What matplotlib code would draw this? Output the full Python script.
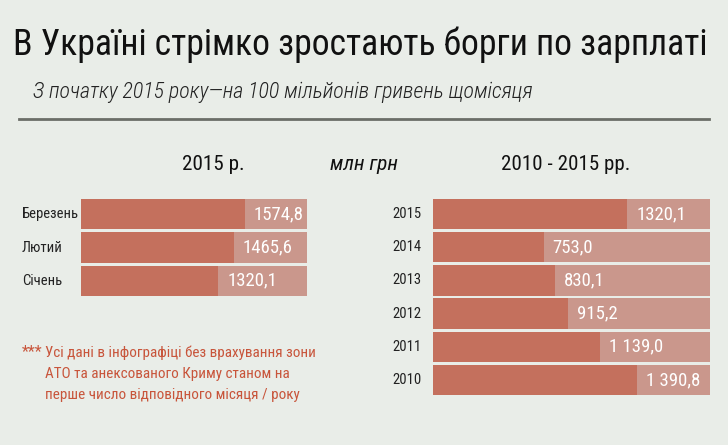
import matplotlib
matplotlib.use("Agg")
import matplotlib.pyplot as plt
import matplotlib.transforms as mtransforms

# ---- data ----
months = ["Березень", "Лютий", "Січень"]
month_values = [1574.8, 1465.6, 1320.1]
month_labels = ["1574,8", "1465,6", "1320,1"]

years = ["2015", "2014", "2013", "2012", "2011", "2010"]
year_values = [1320.1, 753.0, 830.1, 915.2, 1139.0, 1390.8]
year_labels = ["1320,1", "753,0", "830,1", "915,2", "1 139,0", "1 390,8"]

left_max = 2170
right_max = 1884

BG = "#e9ede8"
DARK = "#c4705d"
LIGHT = "#ca978c"
NOTE = "#c8553b"
FONT = ["Roboto Condensed", "PT Sans Narrow", "DejaVu Sans"]

plt.rcParams['font.family'] = FONT

W, H = 728, 445
fig = plt.figure(figsize=(W / 100, H / 100), dpi=100, facecolor=BG)
renderer = fig.canvas.get_renderer()

def fx(px):
    return px / W

def fy(py):
    return 1 - py / H

def fit_text(x, y, s, width_px, max_size, **kw):
    t = fig.text(fx(x), fy(y), s, fontsize=10, **kw)
    w = t.get_window_extent(renderer).width
    t.set_fontsize(min(max_size, 10 * width_px / w))
    return t

# title & subtitle
fit_text(13, 45, "В Україні стрімко зростають борги по зарплаті", 694, 26,
         color="#111111", va="center", ha="left")
fit_text(33, 92, "З початку 2015 року—на 100 мільйонів гривень щомісяця", 500, 20,
         color="#222222", va="center", ha="left", style="italic", fontweight="light")
fig.add_artist(plt.Line2D([fx(19), fx(709)], [fy(119), fy(119)],
                          color="#6b6e68", lw=2, transform=fig.transFigure))

# panel headers
fit_text(213, 165, "2015 р.", 62, 18, ha="center", va="center", color="#111111")
fit_text(364, 165, "млн грн", 68, 16, ha="center", va="center",
         style="italic", color="#111111")
fit_text(566, 165, "2010 - 2015 рр.", 128, 18, ha="center", va="center",
         color="#111111")

H_BAR = 0.91

def panel(rect, cats, vals, labels, vmax, label_x):
    ax = fig.add_axes(rect)
    ax.set_facecolor(BG)
    n = len(cats)
    pos = list(range(n))
    ax.barh(pos, [vmax] * n, height=H_BAR, color=LIGHT, linewidth=0)
    ax.barh(pos, vals, height=H_BAR, color=DARK, linewidth=0)
    ax.set_xlim(0, vmax)
    ax.set_ylim(n - 1 + H_BAR / 2, -H_BAR / 2)
    ax.axis("off")
    off = mtransforms.offset_copy(ax.transData, fig=fig, x=9, y=0, units="dots")
    for p, v, lab in zip(pos, vals, labels):
        ax.text(v, p, lab, transform=off, color="white", fontsize=13.5,
                ha="left", va="center")
    tr = mtransforms.blended_transform_factory(fig.transFigure, ax.transData)
    for p, c in zip(pos, cats):
        ax.text(fx(label_x), p, c, transform=tr, fontsize=10.5, ha="left",
                va="center", color="#222222")
    return ax

panel([fx(81), fy(296), fx(307) - fx(81), (296 - 199) / H],
      months, month_values, month_labels, left_max, 22)
panel([fx(433), fy(395), fx(710) - fx(433), (395 - 199) / H],
      years, year_values, year_labels, right_max, 392)

# footnote
fig.text(fx(22), fy(352), "***", fontsize=11.5, color=NOTE, ha="left", va="center")
notes = ["Усі дані в інфографіці без врахування зони",
         "АТО та анексованого Криму станом на",
         "перше число відповідного місяця / року"]
for i, line in enumerate(notes):
    if i == 0:
        fit_text(45, 353, line, 270, 12.5, color=NOTE, ha="left", va="center")
    else:
        fig.text(fx(45), fy(353 + 21 * i), line, fontsize=fig.texts[-1].get_fontsize(),
                 color=NOTE, ha="left", va="center")

fig.savefig("out.png", dpi=100, facecolor=BG)
